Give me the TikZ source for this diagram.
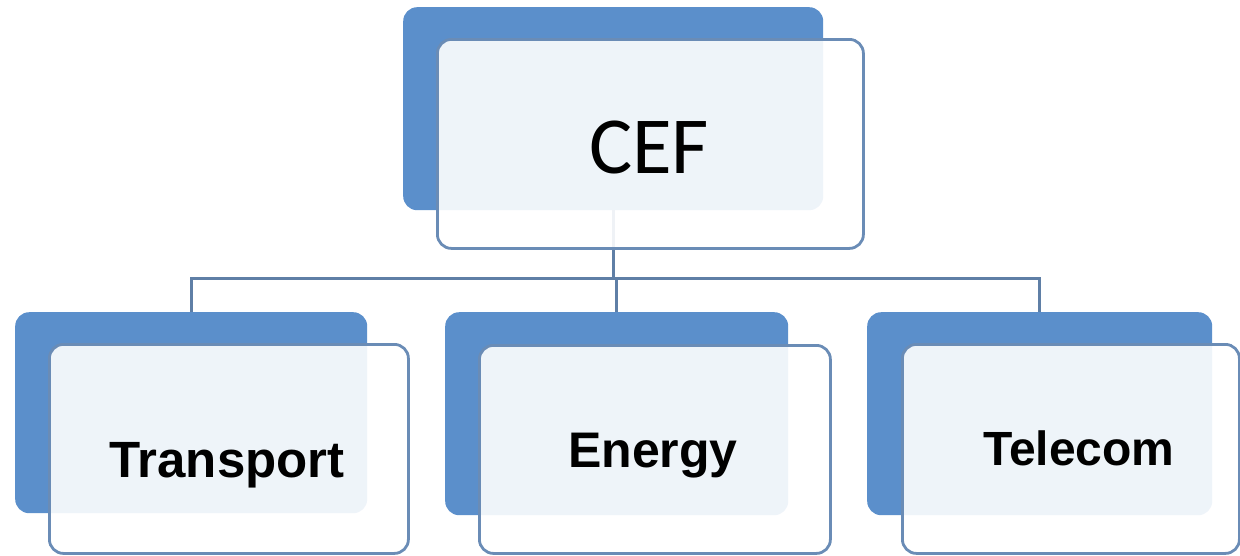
\documentclass[tikz,border=0pt]{standalone}
\usepackage{fontspec}
\newfontfamily\ceffont{Carlito}
\newfontfamily\labfont{Liberation Sans}
\definecolor{backblue}{HTML}{5B8FCB}
\definecolor{frontedge}{HTML}{6A8CB6}
\definecolor{connblue}{HTML}{5F7FA6}
\tikzset{
  backbox/.style={draw=none, fill=backblue, rounded corners=14pt, anchor=north west, inner sep=0pt},
  frontbox/.style={draw=frontedge, line width=2.8pt, fill=white, fill opacity=0.9, rounded corners=14pt, anchor=north west, inner sep=0pt},
  conn/.style={draw=connblue, line width=3pt},
  lab/.style={anchor=base, inner sep=0pt, text=black}
}
\begin{document}
\begin{tikzpicture}[x=1pt,y=-1pt]
\useasboundingbox (0,0) rectangle (1240,555);
% back boxes
\node[backbox, minimum width=420pt, minimum height=203pt] (cefb) at (403,7) {};
\node[backbox, minimum width=352pt, minimum height=201pt] (trb) at (15,312) {};
\node[backbox, minimum width=343pt, minimum height=203pt] (enb) at (445,312) {};
\node[backbox, minimum width=345pt, minimum height=203pt] (teb) at (867,312) {};
% connectors
\coordinate (hub) at (614,278);
\draw[conn] (cefb.south) -- (cefb.south |- hub);
\draw[conn] (trb.north) |- (hub) -| (teb.north);
\draw[conn] (enb.north) -- (enb.north |- hub);
% front boxes
\node[frontbox, minimum width=426pt, minimum height=209pt] (ceff) at (436,38) {};
\node[frontbox, minimum width=359pt, minimum height=209pt] (trf) at (48,343) {};
\node[frontbox, minimum width=351pt, minimum height=208pt] (enf) at (478,344) {};
\node[frontbox, minimum width=337pt, minimum height=209pt] (tef) at (901,343) {};
% labels
\node[lab] (ceft) at (649,173) {\fontsize{81}{90}\selectfont\ceffont CEF};
\node[lab] (trt) at (227,477) {\fontsize{51}{58}\selectfont\labfont\bfseries Transport};
\node[lab] (ent) at (653,467) {\fontsize{50}{56}\selectfont\labfont\bfseries Energy};
\node[lab] (tet) at (1079,465) {\fontsize{48}{54}\selectfont\labfont\bfseries Telecom};
\end{tikzpicture}
\end{document}
